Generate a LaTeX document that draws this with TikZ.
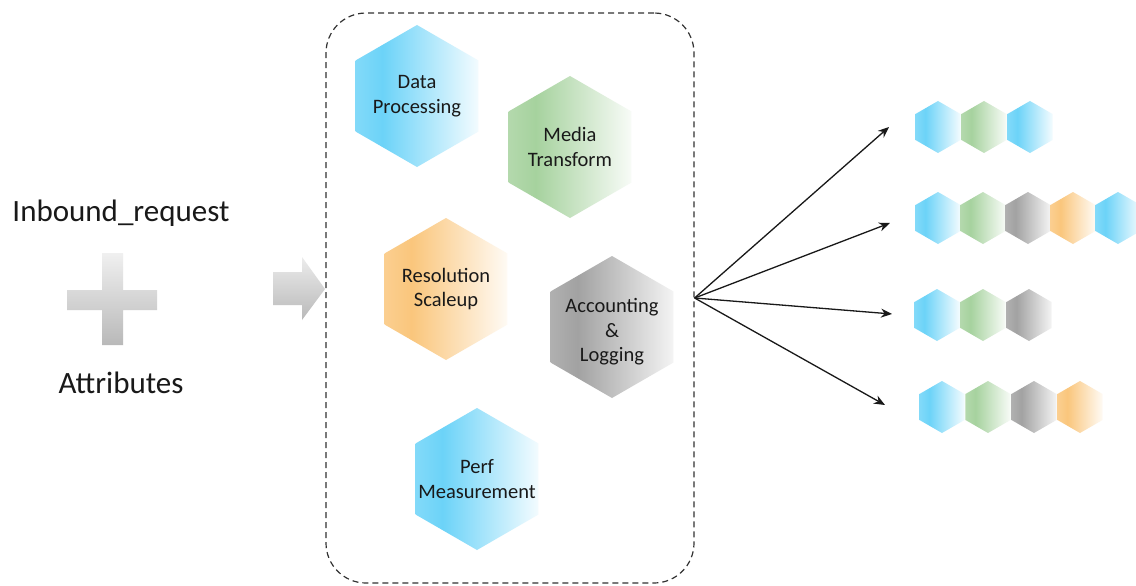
\documentclass[tikz,border=0pt]{standalone}
\usepackage{fontspec}
\setmainfont{Carlito}
\usetikzlibrary{shapes.geometric,arrows.meta}

\definecolor{hexblue}{RGB}{108,211,248}
\definecolor{hexgreen}{RGB}{166,210,158}
\definecolor{hexgray}{RGB}{162,162,162}
\definecolor{hexorange}{RGB}{250,198,124}
\definecolor{inkdark}{RGB}{25,25,25}
\definecolor{frame}{RGB}{50,50,50}

% left-to-right fades: strongest a little in from the left edge, almost white at the right
\pgfdeclarehorizontalshading{fadeblue}{100bp}{color(0bp)=(hexblue!85!white); color(25bp)=(hexblue!85!white); color(36bp)=(hexblue); color(75bp)=(hexblue!8!white); color(100bp)=(hexblue!8!white)}
\pgfdeclarehorizontalshading{fadegreen}{100bp}{color(0bp)=(hexgreen!85!white); color(25bp)=(hexgreen!85!white); color(36bp)=(hexgreen); color(75bp)=(hexgreen!8!white); color(100bp)=(hexgreen!8!white)}
\pgfdeclarehorizontalshading{fadegray}{100bp}{color(0bp)=(hexgray!85!white); color(25bp)=(hexgray!85!white); color(36bp)=(hexgray); color(75bp)=(hexgray!12!white); color(100bp)=(hexgray!12!white)}
\pgfdeclarehorizontalshading{fadeorange}{100bp}{color(0bp)=(hexorange!85!white); color(25bp)=(hexorange!85!white); color(36bp)=(hexorange); color(75bp)=(hexorange!8!white); color(100bp)=(hexorange!8!white)}

\tikzset{
  hexcell/.style={regular polygon, regular polygon sides=6, shape border rotate=30,
    inner sep=0pt, outer sep=0pt, draw=none, shading=fade#1},
  bighex/.style={hexcell=#1, minimum size=142pt},
  hexlabel/.style={font=\fontsize{20.5}{24.5}\selectfont, text=inkdark, align=center},
  smallhex/.style={hexcell=#1, minimum size=52pt},
  bigtext/.style={font=\fontsize{31}{36}\selectfont, text=inkdark},
  fanout/.style={draw=inkdark, line width=1.3pt, -{Stealth[length=11pt,width=9pt]}},
}

\begin{document}
\begin{tikzpicture}[x=1pt,y=-1pt]
  \fill[white] (0,0) rectangle (1136,586);
  \useasboundingbox (0,0) rectangle (1136,586);

  % request and attributes
  \node[bigtext] (req) at (121,213) {Inbound\_request};
  \node[bigtext] (attr) at (121,383) {Attributes};
  \shade[top color=gray!12, bottom color=gray!55]
    (102,253) -- (123,253) -- (123,290) -- (157,290) -- (157,310) -- (123,310)
    -- (123,345) -- (102,345) -- (102,310) -- (67,310) -- (67,290) -- (102,290) -- cycle;

  % block arrow into the service box
  \shade[top color=gray!15, bottom color=gray!55]
    (273,272) -- (302,272) -- (302,257) -- (325,289) -- (302,320) -- (302,305)
    -- (273,305) -- cycle;

  % service box
  \node[draw=frame, line width=1.2pt, dash pattern=on 6pt off 4pt,
        rounded corners=40pt, minimum width=368pt, minimum height=570pt] (box) at (510,298) {};

  % services
  \node[bighex=blue]   (dp)   at (417,96)  {};
  \node[hexlabel] at (dp) {Data\\Processing};
  \node[bighex=green]  (mt)   at (570,147) {};
  \node[hexlabel] at (mt) {Media\\Transform};
  \node[bighex=orange] (rs)   at (446,289) {};
  \node[hexlabel] at (rs) {Resolution\\Scaleup};
  \node[bighex=gray]   (acc)  at (612,327) {};
  \node[hexlabel] at ([yshift=-5pt]acc.center) {Accounting\\\&\\Logging};
  \node[bighex=blue]   (perf) at (477,479) {};
  \node[hexlabel] at (perf) {Perf\\Measurement};

  % resulting chains
  \foreach \c [count=\i] in {blue,green,blue}
    \node[smallhex=\c] (a\i) at ({938+46*(\i-1)},127) {};
  \foreach \c [count=\i] in {blue,green,gray,orange,blue}
    \node[smallhex=\c] (b\i) at ({938+45*(\i-1)},218) {};
  \foreach \c [count=\i] in {blue,green,gray}
    \node[smallhex=\c] (c\i) at ({937+46*(\i-1)},315) {};
  \foreach \c [count=\i] in {blue,green,gray,orange}
    \node[smallhex=\c] (d\i) at ({942+46*(\i-1)},407) {};

  \coordinate (ta) at (889,127);
  \coordinate (tb) at (890,223);
  \coordinate (tc) at (892,314);
  \coordinate (td) at (885,405);
  \foreach \t in {ta,tb,tc,td}
    \draw[fanout] (box.east) -- (\t);
\end{tikzpicture}
\end{document}
